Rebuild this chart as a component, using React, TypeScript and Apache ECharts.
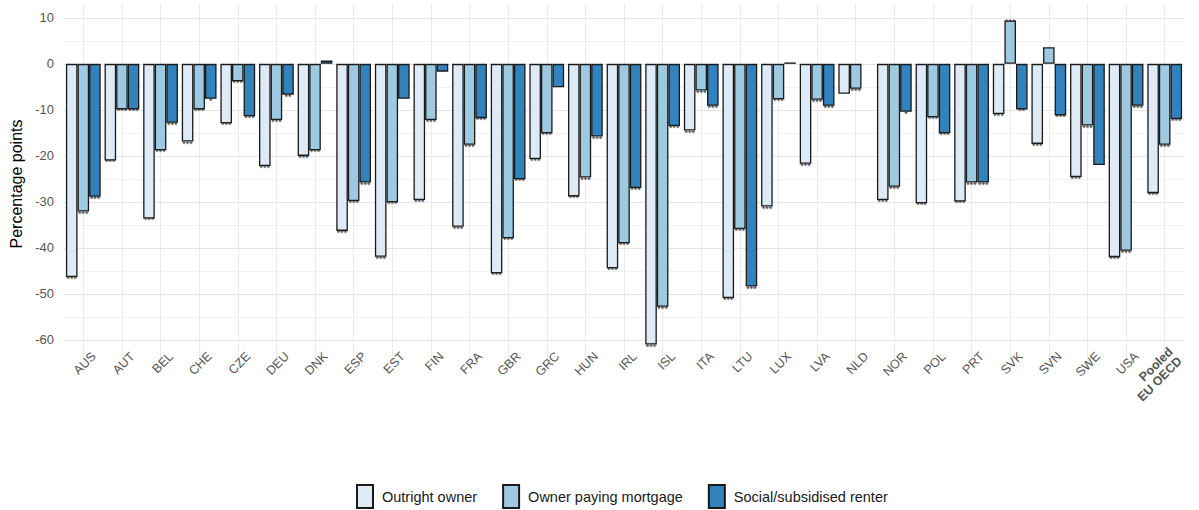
import React, { useEffect, useRef } from "react";
import * as echarts from "echarts";

const categories = [
  "AUS", "AUT", "BEL", "CHE", "CZE", "DEU", "DNK", "ESP", "EST", "FIN",
  "FRA", "GBR", "GRC", "HUN", "IRL", "ISL", "ITA", "LTU", "LUX", "LVA",
  "NLD", "NOR", "POL", "PRT", "SVK", "SVN", "SWE", "USA", "Pooled EU OECD",
];

const seriesNames = ["Outright owner", "Owner paying mortgage", "Social/subsidised renter"];
const seriesColors = ["#deebf7", "#9ecae1", "#3182bd"];

const outright = [
  -46.3, -21.0, -33.6, -16.9, -12.9, -22.2, -20.0, -36.3, -41.9, -29.6,
  -35.4, -45.5, -20.7, -28.8, -44.4, -61.0, -14.5, -50.9, -31.0, -21.7,
  -6.5, -29.6, -30.3, -29.9, -10.9, -17.4, -24.6, -42.0, -28.1,
];
const mortgage = [
  -32.1, -9.9, -18.8, -9.9, -3.8, -12.2, -18.8, -29.8, -30.1, -12.2,
  -17.6, -37.9, -15.1, -24.7, -39.0, -52.8, -5.8, -35.9, -7.7, -7.8,
  -5.4, -26.7, -11.6, -25.8, 9.4, 3.6, -13.4, -40.6, -17.6,
];
const social = [
  -28.9, -9.9, -12.8, -7.6, -11.4, -6.7, 0.7, -25.8, -7.6, -1.7,
  -11.8, -25.1, -5.1, -15.8, -27.0, -13.5, -9.1, -48.4, 0.3, -9.1,
  null, -10.4, -15.1, -25.8, -9.9, -11.2, -22.0, -9.1, -12.0,
];

const outrightStars = [
  "***", "***", "***", "***", "***", "***", "***", "***", "***", "***",
  "***", "***", "***", "***", "***", "***", "***", "***", "***", "***",
  "", "***", "***", "***", "***", "***", "***", "***", "***",
];
const mortgageStars = [
  "***", "***", "***", "***", "***", "***", "***", "***", "***", "***",
  "***", "***", "***", "***", "***", "***", "***", "***", "***", "***",
  "***", "***", "***", "***", "***", "", "***", "***", "***",
];
const socialStars = [
  "***", "***", "***", "*", "***", "**", "", "***", "", "",
  "***", "***", "", "***", "***", "***", "***", "***", "", "***",
  "", "*", "***", "***", "**", "***", "", "***", "***",
];

const yTickValues = [-65, -60, -55, -50, -45, -40, -35, -30, -25, -20, -15, -10, -5, 0, 5, 10, 13];

const FONT = "'Liberation Sans', Arial, Helvetica, sans-serif";

function buildData(values: (number | null)[], stars: string[]) {
  return values.map((v, i) => {
    if (v === null) return { value: null };
    const neg = v < 0;
    return {
      value: v,
      label: {
        show: stars[i] !== "",
        formatter: stars[i],
        position: neg ? "bottom" : "top",
        distance: neg ? -2.5 : -6,
      },
    };
  });
}

export default function App() {
  const ref = useRef<HTMLDivElement>(null);

  useEffect(() => {
    if (!ref.current) return;
    const chart = echarts.init(ref.current, undefined, { renderer: "svg" });

    const ySplitColors = yTickValues.map((t, i) => {
      if (i === 0 || i === yTickValues.length - 1) return "transparent";
      return t % 10 === 0 ? "#e6e6e6" : "#f2f2f2";
    });
    const xSplitColors: string[] = [];
    for (let i = 0; i <= categories.length * 2; i++) {
      xSplitColors.push(i % 2 === 1 ? "#ebebeb" : "transparent");
    }

    const starSets = [outrightStars, mortgageStars, socialStars];
    const valueSets = [outright, mortgage, social];

    const option: any = {
      animation: false,
      textStyle: { fontFamily: FONT },
      grid: { left: 64, right: 15, top: 4, height: 359, containLabel: false },
      graphic: [
        {
          type: "text",
          x: 16,
          y: 184,
          rotation: Math.PI / 2,
          style: {
            text: "Percentage points",
            textAlign: "center",
            textVerticalAlign: "middle",
            fontSize: 16,
            fontFamily: FONT,
            fill: "#000000",
          },
        },
      ],
      legend: {
        left: 351,
        top: 479,
        itemWidth: 16,
        itemHeight: 23,
        itemGap: 25,
        icon: "rect",
        textStyle: { fontSize: 14.5, color: "#1a1a1a", fontFamily: FONT, padding: [0, 0, 0, 4] },
        data: seriesNames,
      },
      xAxis: [
        {
          type: "category",
          data: categories,
          boundaryGap: true,
          axisLine: { show: false },
          axisTick: { show: false },
          splitLine: { show: false },
          axisLabel: {
            interval: 0,
            rotate: 45,
            margin: 2,
            fontSize: 12.5,
            color: "#555555",
            fontFamily: FONT,
            padding: [0, -15, 0, 0],
            formatter: (v: string) =>
              v.startsWith("Pooled") ? "{b|Pooled}\n{b|EU OECD}" : v,
            rich: {
              b: { fontWeight: "bold", fontSize: 12.5, color: "#555555", fontFamily: FONT, align: "right" },
            },
          },
        },
        {
          type: "value",
          min: 0,
          max: categories.length * 2,
          interval: 1,
          position: "top",
          axisLine: { show: false },
          axisTick: { show: false },
          axisLabel: { show: false },
          splitLine: { show: true, lineStyle: { color: xSplitColors, width: 1 } },
        },
      ],
      yAxis: {
        type: "value",
        min: -65,
        max: 13,
        interval: 5,
        axisLine: { show: false },
        axisTick: { show: false },
        axisLabel: {
          fontSize: 13,
          color: "#555555",
          margin: 10,
          fontFamily: FONT,
          formatter: (v: number) => (v % 10 === 0 && v !== 13 ? String(v) : ""),
        },
        splitLine: { show: true, lineStyle: { color: ySplitColors, width: 1 } },
      },
      series: seriesNames.map((name, s) => ({
        name,
        type: "bar",
        xAxisIndex: 0,
        barWidth: "30%",
        barGap: "0%",
        itemStyle: {
          color: seriesColors[s],
          borderColor: "#1a1a1a",
          borderWidth: 1.3,
        },
        label: {
          show: true,
          fontSize: 9,
          color: "#333333",
          fontFamily: FONT,
        },
        data: buildData(valueSets[s], starSets[s]),
      })),
    };

    chart.setOption(option);
    return () => chart.dispose();
  }, []);

  return (
    <div
      ref={ref}
      style={{ position: "absolute", left: 0, top: 0, width: 1199, height: 510, background: "#ffffff" }}
    />
  );
}
